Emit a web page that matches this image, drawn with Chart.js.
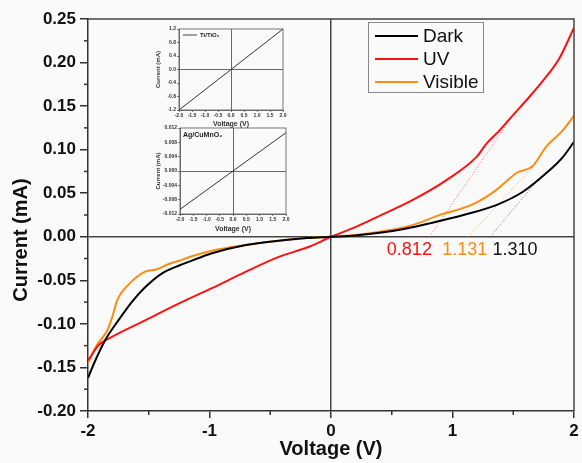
<!DOCTYPE html>
<html>
<head>
<meta charset="utf-8">
<script src="https://cdn.jsdelivr.net/npm/chart.js@4"></script>
<style>
  body { margin: 0; background: #fafafa; }
  #wrap { position: relative; width: 582px; height: 463px; }
  canvas { position: absolute; }
</style>
</head>
<body>
<div id="wrap">
  <canvas id="mainChart" width="582" height="463" style="left:0;top:0"></canvas>
  <canvas id="inset1" width="148" height="104" style="left:145px;top:24px"></canvas>
  <canvas id="inset2" width="148" height="110" style="left:145px;top:123px"></canvas>
</div>
<script>
// Donnees (tension en V, courant en mA)
const darkV = [-2.0, -1.94, -1.86, -1.75, -1.64, -1.53, -1.39, -1.25, -1.1, -0.98, -0.7, -0.43, -0.2, 0, 0.2, 0.4, 0.6, 0.81, 1.09, 1.36, 1.58, 1.77, 1.91, 2.0];
const darkI = [-0.162, -0.142, -0.119, -0.096, -0.075, -0.058, -0.042, -0.033, -0.025, -0.019, -0.0095, -0.0045, -0.0015, 0, 0.0015, 0.0046, 0.009, 0.0154, 0.025, 0.0364, 0.0517, 0.0728, 0.0918, 0.109];

const uvV = [-2.0, -1.91, -1.83, -1.53, -1.25, -0.98, -0.7, -0.43, -0.18, 0, 0.2, 0.4, 0.67, 0.95, 1.2, 1.28, 1.39, 1.5, 1.61, 1.75, 1.88, 2.0];
const uvI = [-0.142, -0.124, -0.117, -0.096, -0.0765, -0.059, -0.04, -0.023, -0.0115, 0, 0.011, 0.024, 0.042, 0.065, 0.092, 0.107, 0.1225, 0.14, 0.157, 0.18, 0.205, 0.24];

const visV = [-2.0, -1.93, -1.84, -1.8, -1.76, -1.66, -1.53, -1.44, -1.33, -1.25, -1.14, -0.98, -0.7, -0.43, -0.2, 0, 0.2, 0.4, 0.67, 0.89, 1.17, 1.36, 1.53, 1.66, 1.77, 1.91, 2.0];
const visI = [-0.145, -0.125, -0.107, -0.092, -0.073, -0.054, -0.04, -0.0375, -0.031, -0.0275, -0.022, -0.016, -0.0095, -0.0046, -0.0015, 0, 0.002, 0.0057, 0.0134, 0.0249, 0.0375, 0.0536, 0.0735, 0.0812, 0.1033, 0.1225, 0.139];

// tangentes (seuils)
const uvTanV = [0.812, 1.50];
const uvTanI = [0, 0.140];
const visTanV = [1.131, 1.66];
const visTanI = [0, 0.080];
const darkTanV = [1.310, 1.72];
const darkTanI = [0, 0.068];
const thresholdLabels = ["0.812", "1.131", "1.310"];

// inserts
const insetV = [-2.0, 2.0];
const tiI = [-1.2, 1.2];
const agI = [-0.0107, 0.0107];

const colDark = "#000000";
const colUV = "#ff1010";
const colVis = "#ff8c10";
const FONT = "'Liberation Sans', Arial, sans-serif";

function pts(xs, ys) {
    return xs.map((x, i) => ({ x: x, y: ys[i] }));
}

function tangent(xs, ys, color) {
    return {
        data: pts(xs, ys), borderColor: color, borderWidth: 1, borderDash: [1, 2],
        pointRadius: 0, fill: false, tension: 0
    };
}

// cadre, petites graduations, titre Y, legende et valeurs des seuils
const decorPlugin = {
    id: "decor",
    afterDatasetsDraw(chart) {
        const ctx = chart.ctx;
        const a = chart.chartArea;
        const xs = chart.scales.x, ys = chart.scales.y;
        ctx.save();
        ctx.strokeStyle = "#444";
        ctx.lineWidth = 1.5;
        ctx.beginPath();
        ctx.moveTo(a.left, a.top); ctx.lineTo(a.right, a.top); ctx.lineTo(a.right, a.bottom);
        ctx.stroke();

        // graduations secondaires
        ctx.strokeStyle = "#333";
        ctx.lineWidth = 1.5;
        [-1.5, -0.5, 0.5, 1.5].forEach(v => {
            const px = xs.getPixelForValue(v);
            ctx.beginPath(); ctx.moveTo(px, a.bottom); ctx.lineTo(px, a.bottom + 4); ctx.stroke();
        });
        for (let v = -0.175; v < 0.25; v += 0.05) {
            const py = ys.getPixelForValue(v);
            ctx.beginPath(); ctx.moveTo(a.left, py); ctx.lineTo(a.left - 4, py); ctx.stroke();
        }

        // titre de l'axe Y (un peu decale vers le bas comme l'original)
        ctx.save();
        ctx.translate(21, 240);
        ctx.rotate(-Math.PI / 2);
        ctx.font = "bold 20px " + FONT;
        ctx.fillStyle = "#111";
        ctx.textAlign = "center";
        ctx.textBaseline = "middle";
        ctx.fillText("Current (mA)", 0, 0);
        ctx.restore();

        // seuils
        ctx.font = "18px " + FONT;
        ctx.textAlign = "center";
        ctx.textBaseline = "middle";
        const ly = ys.getPixelForValue(-0.015);
        ctx.fillStyle = colUV; ctx.fillText(thresholdLabels[0], xs.getPixelForValue(0.645), ly);
        ctx.fillStyle = colVis; ctx.fillText(thresholdLabels[1], xs.getPixelForValue(1.10), ly);
        ctx.fillStyle = "#111"; ctx.fillText(thresholdLabels[2], xs.getPixelForValue(1.515), ly);

        // legende
        const bx = 368, by = 22, bw = 115, bh = 70;
        ctx.fillStyle = "#fafafa";
        ctx.fillRect(bx, by, bw, bh);
        ctx.strokeStyle = "#888"; ctx.lineWidth = 1;
        ctx.strokeRect(bx + 0.5, by + 0.5, bw, bh);
        ctx.textAlign = "left";
        ctx.font = "19px " + FONT;
        chart.data.datasets.slice(0, 3).forEach((ds, i) => {
            const y = by + 14 + i * 23;
            ctx.strokeStyle = ds.borderColor; ctx.lineWidth = 2;
            ctx.beginPath(); ctx.moveTo(bx + 7, y); ctx.lineTo(bx + 50, y); ctx.stroke();
            ctx.fillStyle = "#111";
            ctx.fillText(ds.label, bx + 55, y + 1);
        });
        ctx.restore();
    }
};

const zeroLine = c => (c.tick && c.tick.value === 0) ? "#444" : "rgba(0,0,0,0)";

new Chart(document.getElementById("mainChart"), {
    type: "line",
    data: {
        datasets: [
            { label: "Dark", data: pts(darkV, darkI), borderColor: colDark, borderWidth: 2, pointRadius: 0, cubicInterpolationMode: "monotone" },
            { label: "UV", data: pts(uvV, uvI), borderColor: colUV, borderWidth: 2, pointRadius: 0, cubicInterpolationMode: "monotone" },
            { label: "Visible", data: pts(visV, visI), borderColor: colVis, borderWidth: 2, pointRadius: 0, cubicInterpolationMode: "monotone" },
            tangent(uvTanV, uvTanI, "rgba(255,60,60,0.8)"),
            tangent(visTanV, visTanI, "rgba(255,150,40,0.9)"),
            tangent(darkTanV, darkTanI, "rgba(60,60,60,0.8)")
        ]
    },
    options: {
        responsive: false,
        animation: false,
        devicePixelRatio: 1,
        layout: { padding: { left: 0, top: 19, right: 8, bottom: 0 } },
        plugins: { legend: { display: false }, tooltip: { enabled: false } },
        scales: {
            x: {
                type: "linear", min: -2, max: 2,
                afterFit: s => { s.height = 52; },
                ticks: { stepSize: 1, color: "#111", padding: 3, font: { family: FONT, size: 17, weight: "bold" } },
                grid: { color: zeroLine, lineWidth: 1.5, tickColor: "#333", tickLength: 7, drawOnChartArea: true },
                border: { color: "#333", width: 1.5 },
                title: { display: true, text: "Voltage (V)", color: "#111", padding: { top: 0, bottom: 2 }, font: { family: FONT, size: 20, weight: "bold" } }
            },
            y: {
                type: "linear", min: -0.2, max: 0.25,
                afterFit: s => { s.width = 88; },
                ticks: { stepSize: 0.05, color: "#111", padding: 4, font: { family: FONT, size: 17, weight: "bold" }, callback: v => v.toFixed(2) },
                grid: { color: zeroLine, lineWidth: 1.5, tickColor: "#333", tickLength: 8, drawOnChartArea: true },
                border: { color: "#333", width: 1.5 },
                title: { display: false }
            }
        }
    },
    plugins: [decorPlugin]
});

// petits graphiques inseres
function insetChart(id, ys, ymax, ystep, ydec, label, withLine, areaLeft, areaTop, areaRight, areaBottom) {
    const frame = {
        id: "frame" + id,
        afterDatasetsDraw(chart) {
            const ctx = chart.ctx, a = chart.chartArea;
            ctx.save();
            ctx.strokeStyle = "#555"; ctx.lineWidth = 0.8;
            ctx.strokeRect(a.left, a.top, a.right - a.left, a.bottom - a.top);
            ctx.font = "bold 6px " + FONT;
            ctx.fillStyle = "#222";
            ctx.textBaseline = "middle";
            if (withLine) {
                ctx.strokeStyle = "#444"; ctx.lineWidth = 1;
                ctx.beginPath(); ctx.moveTo(a.left + 4, a.top + 6); ctx.lineTo(a.left + 18, a.top + 6); ctx.stroke();
                ctx.fillText(label, a.left + 21, a.top + 6.5);
            } else {
                ctx.font = "bold 7px " + FONT;
                ctx.fillText(label, a.left + 3, a.top + 7);
            }
            ctx.restore();
        }
    };
    const c = document.getElementById(id);
    new Chart(c, {
        type: "line",
        data: { datasets: [{ data: pts(insetV, ys), borderColor: "#333", borderWidth: 1, pointRadius: 0, tension: 0 }] },
        options: {
            responsive: false, animation: false, devicePixelRatio: 1,
            layout: { padding: { left: 0, top: areaTop, right: c.width - areaRight, bottom: 0 } },
            plugins: { legend: { display: false }, tooltip: { enabled: false } },
            scales: {
                x: {
                    type: "linear", min: -2, max: 2,
                    afterFit: s => { s.height = c.height - areaBottom; },
                    ticks: { stepSize: 0.5, padding: 1, maxRotation: 0, minRotation: 0, autoSkip: false, color: "#333", font: { family: FONT, size: 5, weight: "bold" }, callback: v => v.toFixed(1) },
                    grid: { color: zeroLine, lineWidth: 0.8, tickColor: "#555", tickLength: 2 },
                    border: { color: "#555", width: 0.8 },
                    title: { display: true, text: "Voltage (V)", color: "#333", padding: 0, font: { family: FONT, size: 7, weight: "bold" } }
                },
                y: {
                    type: "linear", min: -ymax, max: ymax,
                    afterFit: s => { s.width = areaLeft; },
                    ticks: { stepSize: ystep, padding: 1, autoSkip: false, color: "#333", font: { family: FONT, size: 5, weight: "bold" }, callback: v => v.toFixed(ydec) },
                    grid: { color: zeroLine, lineWidth: 0.8, tickColor: "#555", tickLength: 2 },
                    border: { color: "#555", width: 0.8 },
                    title: { display: true, text: "Current (mA)", color: "#333", padding: { top: 10, bottom: 0 }, font: { family: FONT, size: 6, weight: "bold" } }
                }
            }
        },
        plugins: [frame]
    });
}

insetChart("inset1", tiI, 1.2, 0.4, 1, "Ti/TiO\u2082", true, 34, 5, 138, 86);
insetChart("inset2", agI, 0.012, 0.004, 3, "Ag/CuMnO\u2082", false, 35, 5, 141, 91);
</script>
</body>
</html>
